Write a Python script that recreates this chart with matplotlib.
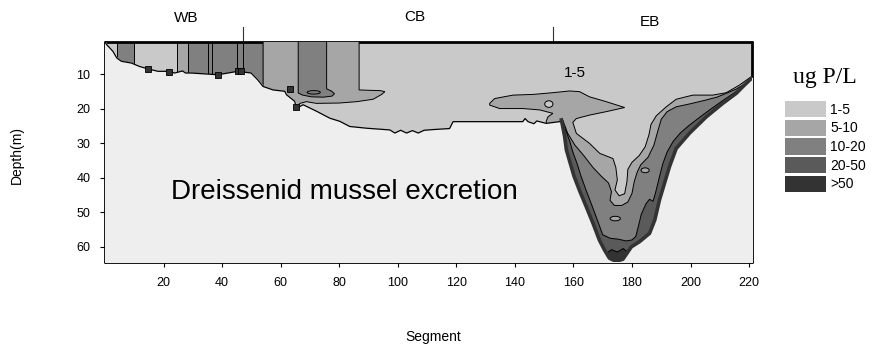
import numpy as np
import matplotlib.pyplot as plt
from matplotlib.patches import Patch, Ellipse
from matplotlib.transforms import blended_transform_factory

plt.rcParams['font.family'] = ['Liberation Sans', 'DejaVu Sans']

# concentration classes (ug P/L)
class_labels = ['1-5', '5-10', '10-20', '20-50', '>50']
class_colors = ['#c9c9c9', '#a6a6a6', '#808080', '#5a5a5a', '#333333']
sediment_color = '#eeeeee'

# lake bottom profile
bottom_seg = [0.0, 0.6, 1.5, 2.7, 4.0, 5.6, 9.0, 11.8, 14.7, 18.1, 21.7, 23.8, 26.5,
              27.5, 29.5, 38.6, 45.4, 49.9, 52.2, 54.0, 57.4, 61.4, 62.0, 64.8, 65.4,
              67.7, 72.3, 76.8, 80.2, 83.6, 89.3, 97.3, 99.0, 101.0, 103.0, 105.0,
              107.0, 109.0, 112.0, 117.7, 118.9, 142.7, 143.5, 144.5, 146.5, 147.5,
              150.7, 155.3, 155.9, 157.0, 157.6, 159.0, 160.2, 162.1, 164.4, 166.7,
              168.9, 170.6, 172.3, 174.5, 176.9, 179.8, 182.6, 186.0, 187.8, 189.4,
              191.1, 192.8, 195.1, 199.7, 205.4, 211.0, 215.6, 218.4, 221.0]
bottom_depth = [0.6, 1.4, 2.2, 3.3, 5.2, 6.2, 6.7, 7.7, 8.4, 9.1, 9.1, 9.6, 9.0,
                9.6, 9.6, 10.1, 9.1, 9.6, 11.6, 13.5, 14.5, 14.9, 15.9, 17.8, 19.8,
                18.8, 20.7, 22.7, 23.6, 25.1, 25.6, 26.1, 27.0, 26.2, 27.0, 26.3,
                27.0, 26.2, 26.0, 25.7, 23.7, 23.7, 22.8, 23.7, 24.3, 23.5,
                24.2, 23.7, 23.2, 28.0, 31.9, 36.0, 39.5, 43.7, 48.4, 53.2,
                58.1, 60.9, 63.3, 64.2, 63.6, 60.0, 58.5, 56.1, 52.2, 46.4,
                41.6, 36.8, 31.5, 27.0, 22.3, 18.4, 15.5, 13.1, 11.0]

# western basin: full-depth vertical bands
wb_left = [4.0, 24.5, 28.4, 35.3, 36.4, 45.0, 47.2]
wb_right = [10.0, 28.4, 35.3, 36.4, 45.0, 47.2, 54.0]
wb_class = [2, 1, 2, 2, 2, 2, 2]

# closed zones (segment, depth outlines)
wb_tongue_seg = [54.0, 86.8, 86.8, 90.0, 94.0, 95.6, 94.5, 91.6, 86.0, 80.0, 72.2,
                 68.8, 66.6, 65.4, 64.0, 54.0]
wb_tongue_depth = [0.0, 0.0, 14.5, 14.6, 14.7, 15.0, 15.8, 17.2, 17.9, 18.3, 18.4,
                   17.9, 18.4, 19.5, 70.0, 70.0]

wb_core_seg = [66.0, 75.7, 75.7, 77.3, 78.4, 77.5, 74.5, 70.5, 67.5, 66.0]
wb_core_depth = [0.0, 0.0, 14.2, 14.8, 15.6, 16.3, 16.6, 16.5, 16.0, 15.4]

eb_5_seg = [131.4, 133.1, 139.4, 146.2, 153.0, 158.7, 162.1, 165.5, 171.2, 177.5,
            171.2, 165.5, 161.0, 159.8, 161.0, 165.5, 169.0, 173.5, 174.5, 175.0,
            174.2, 175.6, 177.5, 178.3, 178.6, 180.0, 182.5, 184.5, 185.8, 186.5,
            188.3, 191.7, 195.1, 200.8, 207.6, 212.2, 216.7, 221.0, 221.0, 152.0,
            150.7, 151.3, 153.0, 148.5, 142.8, 134.8, 131.4]
eb_5_depth = [18.4, 17.0, 16.0, 15.8, 15.3, 14.8, 15.0, 16.5, 17.9, 19.6,
              20.8, 21.8, 22.8, 23.9, 27.1, 30.0, 32.9, 34.4, 37.0, 40.6,
              43.5, 45.2, 44.6, 41.0, 37.5, 35.5, 33.5, 31.0, 27.5, 24.5,
              22.0, 19.4, 17.2, 16.0, 16.0, 15.3, 13.1, 10.5, 70.0, 70.0,
              23.6, 22.3, 21.3, 20.3, 19.9, 19.9, 18.9]

eb_10_seg = [156.4, 158.0, 160.5, 163.5, 166.7, 169.5, 172.0, 173.0, 172.5, 174.0,
             176.5, 178.6, 180.0, 180.8, 181.8, 183.0, 185.5, 187.5, 188.8, 190.0,
             192.0, 195.1, 200.0, 205.4, 209.0, 212.2, 215.5, 218.5, 221.0, 221.0,
             155.0]
eb_10_depth = [23.3, 27.0, 30.5, 33.5, 37.0, 39.5, 41.5, 44.0, 46.5, 48.0,
               48.0, 47.0, 44.5, 41.0, 38.3, 36.2, 34.0, 30.5, 26.5, 23.0,
               20.8, 19.4, 18.5, 17.4, 16.6, 15.5, 14.3, 12.8, 11.5, 70.0,
               70.0]

eb_20_seg = [156.0, 157.5, 158.8, 159.8, 161.3, 162.6, 164.3, 166.5, 168.5, 170.0,
             172.5, 175.5, 178.0, 180.0, 181.3, 182.2, 183.2, 184.8, 186.0, 187.2,
             188.0, 189.3, 190.5, 192.0, 194.0, 196.5, 199.5, 203.5, 207.5, 211.5,
             215.0, 218.0, 221.0, 221.0, 155.0]
eb_20_depth = [23.6, 26.5, 29.5, 32.5, 36.0, 39.5, 43.5, 48.4, 53.0, 56.5,
               57.5, 57.8, 58.3, 58.0, 57.0, 54.0, 50.5, 47.5, 46.2, 46.8,
               44.5, 40.0, 36.0, 32.5, 29.5, 27.0, 24.8, 22.2, 19.7, 17.3,
               15.3, 13.4, 11.9, 70.0, 70.0]

eb_50_seg = [170.0, 171.5, 173.0, 175.0, 177.0, 178.5, 179.0, 170.0]
eb_50_depth = [61.0, 61.8, 60.8, 61.5, 60.5, 61.5, 70.0, 70.0]

# small closed contours: centre, size, class
oval_seg = [71.3, 151.6, 184.5, 174.3]
oval_depth = [15.2, 18.6, 37.8, 51.8]
oval_w = [4.5, 2.8, 2.8, 3.5]
oval_h = [1.0, 1.9, 1.4, 1.3]
oval_class = [2, 0, 1, 1]

# isolated high cells along the western basin floor
cell_seg = [14.7, 21.7, 38.6, 45.3, 46.6, 63.1, 65.3]
cell_depth = [8.4, 9.2, 10.1, 9.0, 9.0, 14.3, 19.5]

basin_names = ['WB', 'CB', 'EB']
basin_label_seg = [27.6, 105.8, 186.0]
basin_label_y = [1.109, 1.114, 1.091]
basin_bound_seg = [47.2, 152.9]

fig = plt.figure(figsize=(8.82, 3.53), dpi=100)
ax = fig.add_axes([105 / 882, 91 / 353, 647 / 882, 220 / 353])
ax.set_facecolor(class_colors[0])

for l, r, k in zip(wb_left, wb_right, wb_class):
    ax.axvspan(l, r, facecolor=class_colors[k], edgecolor='black', linewidth=0.7, zorder=2)

zones = [(wb_tongue_seg, wb_tongue_depth, 1), (wb_core_seg, wb_core_depth, 2),
         (eb_5_seg, eb_5_depth, 1), (eb_10_seg, eb_10_depth, 2),
         (eb_20_seg, eb_20_depth, 3), (eb_50_seg, eb_50_depth, 4)]
for s, d, k in zones:
    ax.fill(s, d, facecolor=class_colors[k], edgecolor='black', linewidth=0.7, zorder=3 + k)

for x, y, w, h, k in zip(oval_seg, oval_depth, oval_w, oval_h, oval_class):
    ax.add_patch(Ellipse((x, y), w, h, facecolor=class_colors[k], edgecolor='black',
                         linewidth=0.7, zorder=8))

# sediment below the lake bottom
ax.fill_between(bottom_seg, bottom_depth, 70, color=sediment_color, zorder=10)
ax.plot(bottom_seg, bottom_depth, color='black', linewidth=0.9, zorder=11)
trough = [i for i, s in enumerate(bottom_seg) if s >= 155.9]
ax.plot([bottom_seg[i] for i in trough], [bottom_depth[i] for i in trough],
        color=class_colors[4], linewidth=2.6, zorder=11)
ax.scatter(cell_seg, cell_depth, marker='s', s=22, color=class_colors[4],
           edgecolor='black', linewidth=0.6, zorder=12)

ax.text(160.5, 9.7, '1-5', fontsize=11, ha='center', va='center', zorder=13)
ax.text(81.6, 44.1, 'Dreissenid mussel excretion', fontsize=20, ha='center',
        va='center', zorder=13)

trans = blended_transform_factory(ax.transData, ax.transAxes)
for s in basin_bound_seg:
    ax.plot([s, s], [1.0, 1.068], transform=trans, clip_on=False, color='#333333',
            linewidth=0.8)
for name, s, y in zip(basin_names, basin_label_seg, basin_label_y):
    ax.text(s, y, name, transform=trans, fontsize=11, ha='center', va='center')

ax.set_xlim(0, 221)
ax.set_ylim(64.4, 0.6)
ax.set_xticks(np.arange(20, 221, 20))
ax.set_yticks(np.arange(10, 61, 10))
ax.tick_params(direction='out', length=3.5, width=0.8, pad=7, labelsize=9)
for sp in ax.spines.values():
    sp.set_linewidth(2)
    sp.set_capstyle('round')

fig.text(433 / 882, 1 - 337 / 353, 'Segment', fontsize=10, ha='center', va='center')
fig.text(17 / 882, 1 - 155 / 353, 'Depth(m)', fontsize=10, rotation=90,
         ha='center', va='center')

fig.text(825 / 882, 1 - 77 / 353, 'ug P/L', fontsize=17, family='Liberation Serif',
         ha='center', va='center')
handles = [Patch(facecolor=c, edgecolor='none') for c in class_colors]
ax.legend(handles, class_labels, loc='upper left', bbox_to_anchor=(785 / 882, 1 - 101 / 353),
          bbox_transform=fig.transFigure, frameon=False, fontsize=10,
          handlelength=2.95, handleheight=1.44, labelspacing=0.16,
          handletextpad=0.3, borderpad=0, borderaxespad=0)

fig.savefig('out.png', dpi=100)
